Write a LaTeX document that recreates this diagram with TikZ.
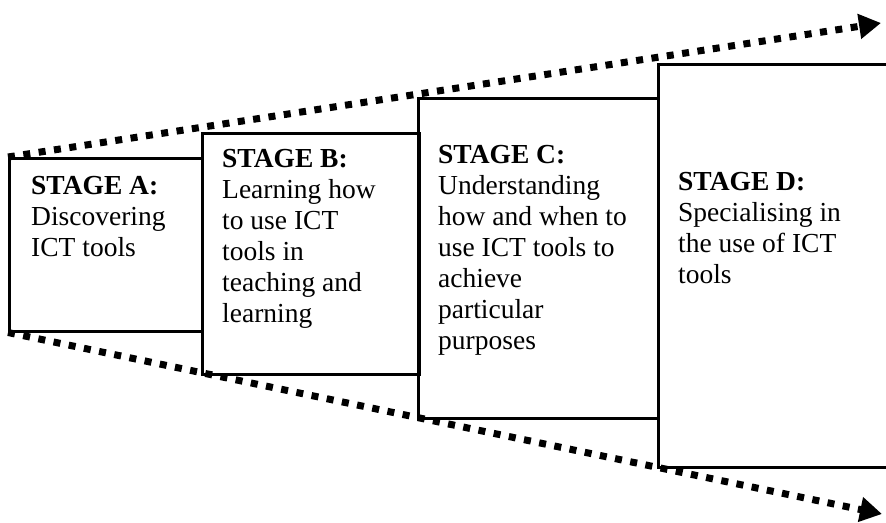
\documentclass[tikz,border=0pt]{standalone}
\usepackage{fontspec}
\setmainfont{Liberation Serif}
\usetikzlibrary{arrows.meta}
\begin{document}
\begin{tikzpicture}[x=1pt,y=-1pt,
  stagebox/.style={draw=black,line width=2.5pt,inner sep=0pt,anchor=north west},
  stagetext/.style={anchor=base west,align=left,inner sep=0pt,font=\fontsize{27.5}{31}\selectfont},
  flow/.style={line width=7pt,dash pattern=on 7pt off 8.5pt,
    -{Triangle[length=22pt,width=24pt]}}]
\useasboundingbox (0,0) rectangle (886,522);
\clip (0,0) rectangle (886,522);
\node[stagebox,minimum width=193pt,minimum height=173pt] (A) at (8,157) {};
\node[stagebox,minimum width=217pt,minimum height=241pt] (B) at (201,132) {};
\node[stagebox,minimum width=240pt,minimum height=320pt] (C) at (417,97) {};
\node[stagebox,minimum width=260pt,minimum height=403pt] (D) at (657,63) {};
\node[stagetext] (tA) at (31,256) {\textbf{STAGE A:}\\Discovering\\ICT tools};
\node[stagetext] (tB) at (222,322) {\textbf{STAGE B:}\\Learning how\\to use ICT\\tools in\\teaching and\\learning};
\node[stagetext] (tC) at (438,349) {\textbf{STAGE C:}\\Understanding\\how and when to\\use ICT tools to\\achieve\\particular\\purposes};
\node[stagetext] (tD) at (678,283) {\textbf{STAGE D:}\\Specialising in\\the use of ICT\\tools};
\coordinate (topend) at (881,23);
\coordinate (botend) at (882,514);
\draw[flow] (A.north west) -- (topend);
\draw[flow] (A.south west) -- (botend);
\end{tikzpicture}
\end{document}
